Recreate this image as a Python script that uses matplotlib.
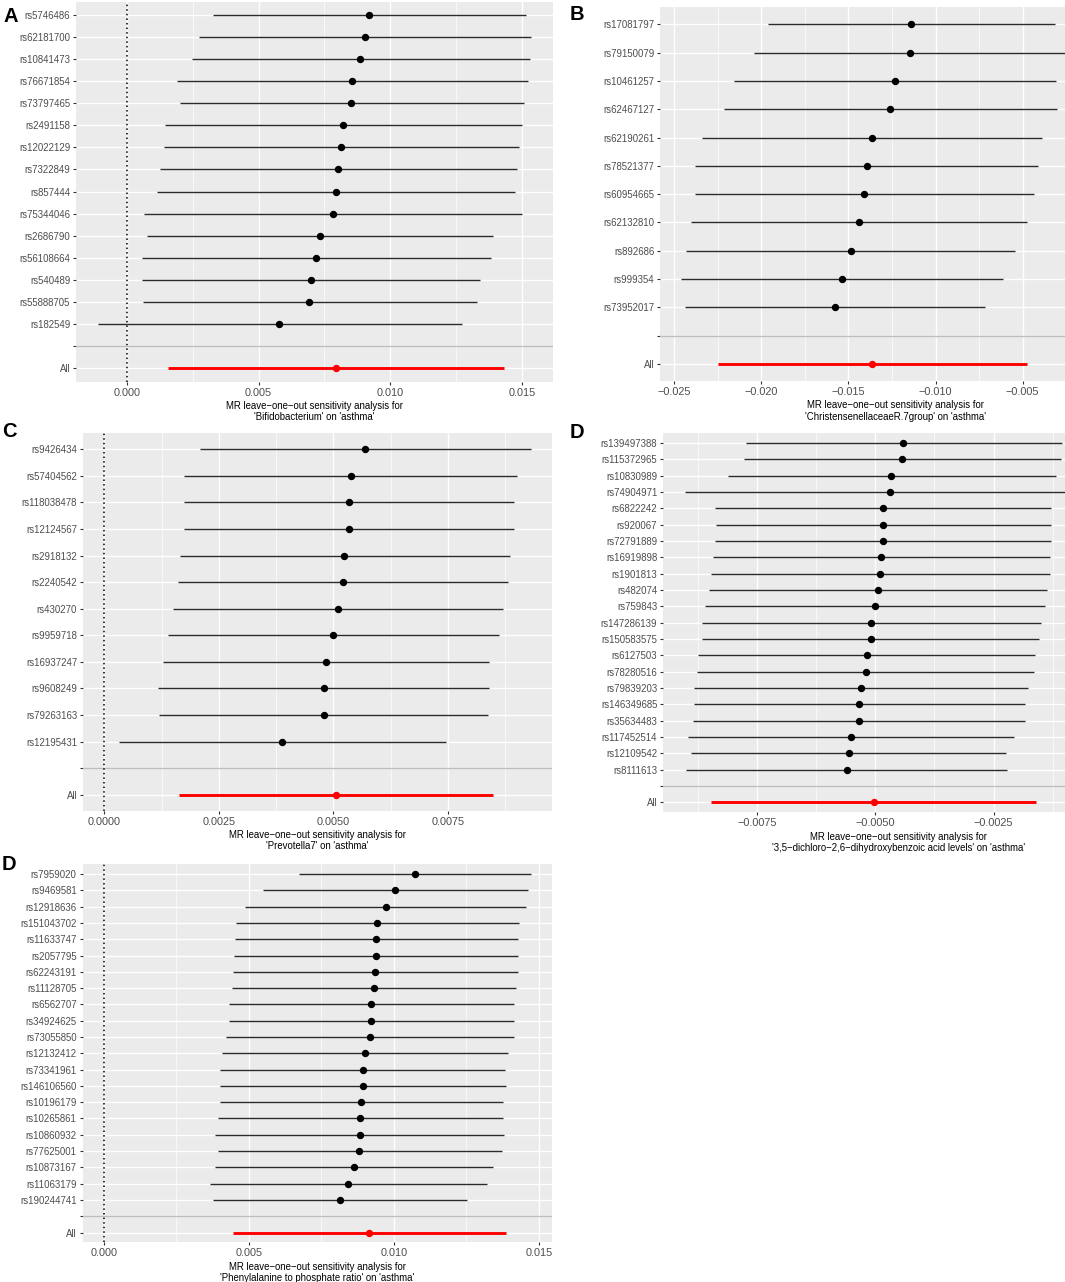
import matplotlib
matplotlib.use("Agg")
import matplotlib.pyplot as plt
from matplotlib.ticker import MultipleLocator, FuncFormatter

plt.rcParams['font.family'] = ['Liberation Sans', 'DejaVu Sans']

# === data (in units of 1e-3) ===
# panel A: Bifidobacterium
snps_a = ['rs5746486', 'rs62181700', 'rs10841473', 'rs76671854', 'rs73797465',
          'rs2491158', 'rs12022129', 'rs7322849', 'rs857444', 'rs75344046',
          'rs2686790', 'rs56108664', 'rs540489', 'rs55888705', 'rs182549']
b_a = [9.21, 9.04, 8.87, 8.54, 8.53, 8.20, 8.14, 8.03, 7.93, 7.82, 7.32, 7.18, 7.00, 6.93, 5.79]
lo_a = [3.27, 2.72, 2.46, 1.91, 2.00, 1.44, 1.40, 1.26, 1.15, 0.66, 0.75, 0.56, 0.59, 0.60, -1.11]
hi_a = [15.16, 15.35, 15.30, 15.22, 15.09, 15.00, 14.89, 14.81, 14.73, 15.01, 13.92, 13.82, 13.42, 13.28, 12.73]
all_a = [7.93, 1.57, 14.32]

# panel B: ChristensenellaceaeR.7group
snps_b = ['rs17081797', 'rs79150079', 'rs10461257', 'rs62467127', 'rs62190261',
          'rs78521377', 'rs60954665', 'rs62132810', 'rs892686', 'rs999354', 'rs73952017']
b_b = [-11.40, -11.46, -12.35, -12.60, -13.63, -13.92, -14.08, -14.40, -14.88, -15.38, -15.77]
lo_b = [-19.62, -20.44, -21.58, -22.13, -23.38, -23.79, -23.79, -24.02, -24.29, -24.58, -24.35]
hi_b = [-3.17, -2.20, -3.08, -3.02, -3.87, -4.10, -4.35, -4.73, -5.46, -6.15, -7.17]
all_b = [-13.62, -22.50, -4.73]

# panel C: Prevotella7
snps_c = ['rs9426434', 'rs57404562', 'rs118038478', 'rs12124567', 'rs2918132',
          'rs2240542', 'rs430270', 'rs9959718', 'rs16937247', 'rs9608249',
          'rs79263163', 'rs12195431']
b_c = [5.70, 5.39, 5.35, 5.34, 5.24, 5.21, 5.11, 5.00, 4.85, 4.79, 4.79, 3.89]
lo_c = [2.10, 1.75, 1.75, 1.75, 1.65, 1.61, 1.50, 1.39, 1.29, 1.18, 1.20, 0.32]
hi_c = [9.31, 9.02, 8.95, 8.95, 8.86, 8.81, 8.71, 8.62, 8.41, 8.40, 8.38, 7.46]
all_c = [5.06, 1.62, 8.49]

# panel D: 3,5-dichloro-2,6-dihydroxybenzoic acid levels
snps_d = ['rs139497388', 'rs115372965', 'rs10830989', 'rs74904971', 'rs6822242',
          'rs920067', 'rs72791889', 'rs16919898', 'rs1901813', 'rs482074',
          'rs759843', 'rs147286139', 'rs150583575', 'rs6127503', 'rs78280516',
          'rs79839203', 'rs146349685', 'rs35634483', 'rs117452514', 'rs12109542',
          'rs8111613']
b_d = [-4.41, -4.44, -4.66, -4.70, -4.84, -4.84, -4.85, -4.88, -4.90, -4.95, -5.01,
       -5.09, -5.10, -5.18, -5.21, -5.31, -5.34, -5.35, -5.51, -5.56, -5.61]
lo_d = [-7.75, -7.78, -8.12, -9.04, -8.39, -8.38, -8.40, -8.44, -8.49, -8.53, -8.60,
        -8.67, -8.67, -8.76, -8.78, -8.84, -8.85, -8.86, -8.97, -8.90, -9.00]
hi_d = [-1.05, -1.08, -1.17, -0.90, -1.29, -1.29, -1.29, -1.30, -1.30, -1.36, -1.42,
        -1.50, -1.54, -1.63, -1.64, -1.78, -1.84, -1.83, -2.06, -2.24, -2.22]
all_d = [-5.04, -8.48, -1.60]

# panel D (bottom): Phenylalanine to phosphate ratio
snps_e = ['rs7959020', 'rs9469581', 'rs12918636', 'rs151043702', 'rs11633747',
          'rs2057795', 'rs62243191', 'rs11128705', 'rs6562707', 'rs34924625',
          'rs73055850', 'rs12132412', 'rs73341961', 'rs146106560', 'rs10196179',
          'rs10265861', 'rs10860932', 'rs77625001', 'rs10873167', 'rs11063179',
          'rs190244741']
b_e = [10.72, 10.05, 9.72, 9.43, 9.40, 9.40, 9.36, 9.32, 9.22, 9.22, 9.19, 9.00,
       8.93, 8.93, 8.88, 8.84, 8.83, 8.81, 8.63, 8.43, 8.14]
lo_e = [6.73, 5.49, 4.86, 4.56, 4.51, 4.49, 4.44, 4.42, 4.31, 4.31, 4.23, 4.09,
        4.02, 4.00, 4.00, 3.94, 3.85, 3.94, 3.85, 3.65, 3.75]
hi_e = [14.72, 14.63, 14.57, 14.31, 14.30, 14.30, 14.27, 14.23, 14.15, 14.14, 14.14,
        13.93, 13.85, 13.86, 13.77, 13.75, 13.80, 13.72, 13.41, 13.22, 12.53]
all_e = [9.16, 4.47, 13.86]

title_top = 'MR leave\u2212one\u2212out sensitivity analysis for\n'
xlab_a = title_top + "'Bifidobacterium' on 'asthma'"
xlab_b = title_top + "'ChristensenellaceaeR.7group' on 'asthma'"
xlab_c = title_top + "'Prevotella7' on 'asthma'"
xlab_d = title_top + "'3,5\u2212dichloro\u22122,6\u2212dihydroxybenzoic acid levels' on 'asthma'"
xlab_e = title_top + "'Phenylalanine to phosphate ratio' on 'asthma'"

W, H = 1065, 1282
fig = plt.figure(figsize=(W / 100, H / 100), dpi=100)


def add_ax(l, t, r, b):
    return fig.add_axes([l / W, 1 - b / H, (r - l) / W, (b - t) / H])


def fmt_factory(d, hide_from=None):
    # ggplot like labels with a real minus sign; ticks that fall off the
    # cropped right side get no label
    def f(x, pos):
        if hide_from is not None and x >= hide_from:
            return ''
        s = f'{x:.{d}f}'
        if float(s) == 0:
            s = f'{0:.{d}f}'
        return s.replace('-', '\u2212')
    return FuncFormatter(f)


def loo_plot(ax, snps, b, lo, hi, allv, step, dec, xlab, hide_from=None):
    s = 1e-3
    n = len(snps)
    ys = [n + 2 - i for i in range(n)]
    ax.set_facecolor('#EBEBEB')
    for sp in ax.spines.values():
        sp.set_visible(False)
    ax.set_axisbelow(True)

    ax.hlines(ys, [v * s for v in lo], [v * s for v in hi], color='#2b2b2b', lw=1.0, zorder=3)
    ax.plot([v * s for v in b], ys, 'o', color='black', ms=4.3, zorder=4)
    ax.hlines([1], [allv[1] * s], [allv[2] * s], color='red', lw=2.1, zorder=3)
    ax.plot([allv[0] * s], [1], 'o', color='red', ms=4.3, zorder=4)

    ax.axhline(2, color='#BEBEBE', lw=1.0, zorder=2)
    ax.axvline(0, color='black', lw=1.1, linestyle=(0, (1, 2)), zorder=2)

    # ggplot style 5% expansion, scale trained on the zero line too
    xmin = min(min(lo), allv[1], 0) * s
    xmax = max(max(hi), allv[2], 0) * s
    pad = 0.05 * (xmax - xmin)
    ax.set_xlim(xmin - pad, xmax + pad)
    ax.set_ylim(0.4, n + 2.6)

    ax.xaxis.set_major_locator(MultipleLocator(step * s))
    ax.xaxis.set_minor_locator(MultipleLocator(step * s / 2))
    ax.xaxis.set_major_formatter(fmt_factory(dec, hide_from))
    ax.set_yticks(range(1, n + 3))
    ax.set_yticklabels(['All', ''] + snps[::-1])

    ax.grid(which='major', color='white', lw=1.0)
    ax.grid(which='minor', axis='x', color='white', lw=0.5)
    ax.tick_params(which='major', length=2.2, width=0.8, color='#333333', pad=2)
    ax.tick_params(which='minor', length=0)
    ax.tick_params(axis='x', labelsize=7.8, labelcolor='#4D4D4D')
    ax.tick_params(axis='y', labelsize=6.9, labelcolor='#4D4D4D')
    ax.set_xlabel(xlab, fontsize=6.9, color='black', labelpad=2.5, linespacing=1.15)


ax_a = add_ax(76, 1.5, 552.7, 381.7)
loo_plot(ax_a, snps_a, b_a, lo_a, hi_a, all_a, 5, 3, xlab_a)

# right column panels are cut by the picture's right edge
ax_b = add_ax(660, 7.3, 1131.3, 381)
loo_plot(ax_b, snps_b, b_b, lo_b, hi_b, all_b, 5, 3, xlab_b, hide_from=-1e-9)

ax_c = add_ax(83, 433.3, 552, 810.7)
loo_plot(ax_c, snps_c, b_c, lo_c, hi_c, all_c, 2.5, 4, xlab_c)

ax_d = add_ax(663.2, 433.3, 1133, 812.3)
loo_plot(ax_d, snps_d, b_d, lo_d, hi_d, all_d, 2.5, 4, xlab_d, hide_from=-1e-9)

ax_e = add_ax(82.5, 864.3, 552, 1242.3)
loo_plot(ax_e, snps_e, b_e, lo_e, hi_e, all_e, 5, 3, xlab_e)

# panel letters
for lab, px, py in [('A', 3, 22), ('B', 570, 20), ('C', 2, 437), ('D', 570, 438), ('D', 2, 870)]:
    fig.text(px / W, 1 - py / H, lab, fontsize=14.5, fontweight='bold', ha='left', va='baseline')

fig.savefig('out.png', dpi=100)
